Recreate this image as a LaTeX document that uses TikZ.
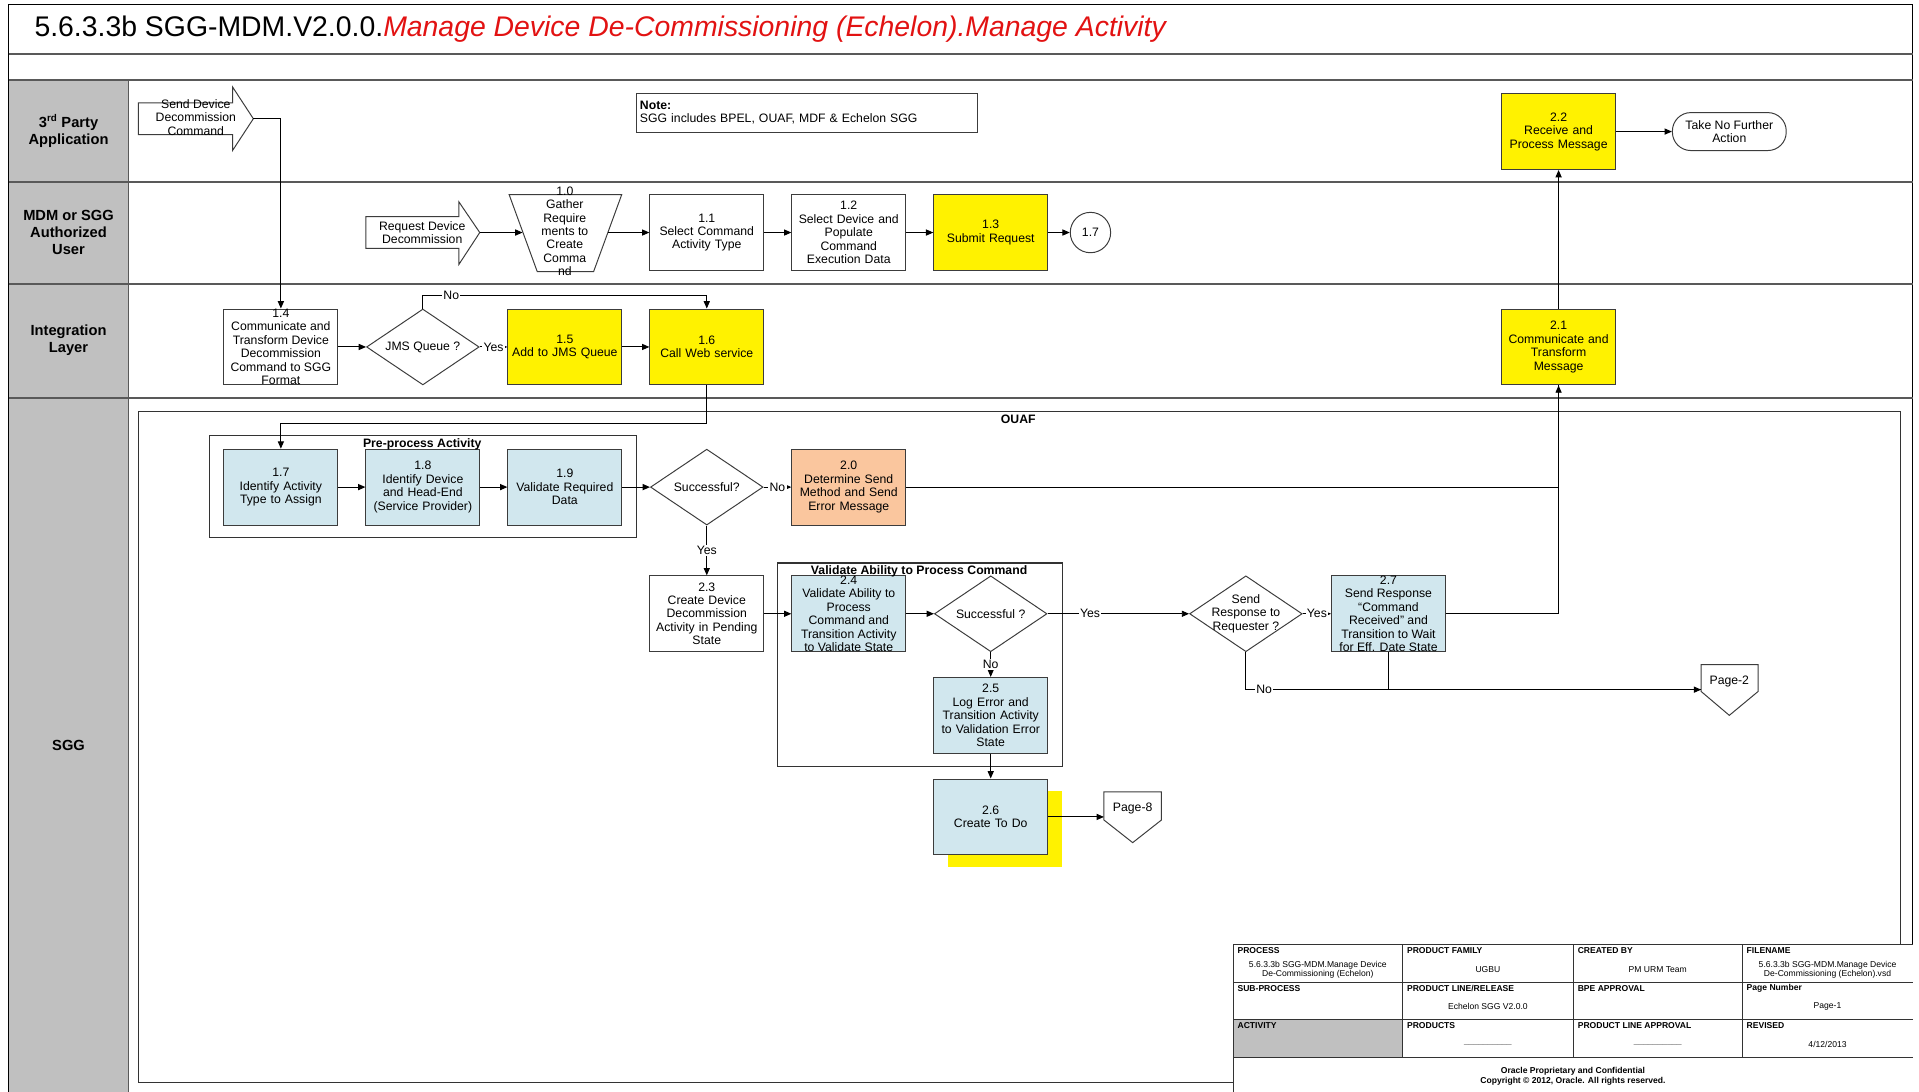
\documentclass[tikz,border=0pt]{standalone}
\usepackage{fontspec}
\setmainfont{Liberation Sans}
\usepackage{tikz}
\usetikzlibrary{shapes,arrows.meta,positioning}

\definecolor{procblue}{RGB}{209,231,238}
\definecolor{errorange}{RGB}{250,198,158}
\definecolor{lanegray}{RGB}{192,192,192}
\definecolor{edgegray}{RGB}{60,60,60}
\definecolor{titlered}{RGB}{226,18,18}

\tikzset{
	proc/.style={draw=edgegray, line width=0.8pt, fill=white, minimum width=93pt, minimum height=62pt, inner sep=1pt, text width=91pt, align=center},
	yel/.style={proc, fill=yellow},
	blu/.style={proc, fill=procblue},
	org/.style={proc, fill=errorange},
	dec/.style={diamond, aspect=1.5, draw=edgegray, line width=0.8pt, fill=white, minimum width=92pt, minimum height=62pt, inner sep=0pt},
	txt/.style={align=center, inner sep=0pt},
	lbl/.style={fill=white, inner sep=1pt},
	arr/.style={-{Triangle[length=6pt,width=5pt]}, line width=0.8pt},
	shapeline/.style={draw=edgegray, line width=0.8pt},
	laneline/.style={draw=black!65, line width=1.6pt},
	grp/.style={draw=black!80, line width=0.9pt},
	grptitle/.style={font=\bfseries, inner sep=0pt},
	lanetitle/.style={font=\fontsize{12}{14}\selectfont\bfseries, align=center},
	tbline/.style={draw=black!80, line width=0.7pt},
	tbhead/.style={font=\fontsize{7}{8}\selectfont\bfseries, anchor=west, inner sep=0pt},
	tbval/.style={font=\fontsize{7}{7.5}\selectfont, align=center, inner sep=0pt}
}

\begin{document}
\begin{tikzpicture}[x=1pt,y=-1pt,font=\fontsize{10}{11}\selectfont]
	\useasboundingbox (0,0) rectangle (1568,892);

	% page frame and swimlanes
	\fill[lanegray] (7,65.5) rectangle (105,892);
	\draw[black, line width=0.9pt] (7,892) -- (7,4) -- (1563,4) -- (1563,892);
	\draw[laneline] (7,44.5) -- (1563,44.5);
	\draw[laneline] (7,65.5) -- (1563,65.5);
	\draw[laneline] (7,149) -- (1563,149);
	\draw[laneline] (7,232) -- (1563,232);
	\draw[laneline] (7,325) -- (1563,325);
	\draw[laneline] (105,65.5) -- (105,892);

	\node[anchor=west, font=\fontsize{23.2}{27}\selectfont, inner sep=0pt] (title) at (28,24) {5.6.3.3b SGG-MDM.V2.0.0.\textcolor{titlered}{\itshape Manage Device De-Commissioning (Echelon).Manage Activity}};

	\node[lanetitle] (lane1) at (56,107) {3\textsuperscript{rd} Party\\Application};
	\node[lanetitle] (lane2) at (56,190) {MDM or SGG\\Authorized\\User};
	\node[lanetitle] (lane3) at (56,278) {Integration\\Layer};
	\node[lanetitle] (lane4) at (56,609) {SGG};

	% group frames
	\draw[grp] (113.5,336) rectangle (1552.5,884.5);
	\draw[grp] (171.5,356) rectangle (520,439);
	\draw[grp] (635.5,460) rectangle (868,626.5);

	% 3rd party application
	\draw[shapeline, fill=white] (113,84) -- (190,84) -- (190,71) -- (207,97) -- (190,123) -- (190,110) -- (113,110) -- cycle;
	\node[txt] (sdc) at (160,96) {Send Device\\Decommission\\Command};
	\coordinate (sdctip) at (207,97);

	\node[draw=edgegray, line width=0.8pt, anchor=north west, minimum width=279pt, minimum height=31.5pt, text width=273pt, align=left, inner sep=3pt] (note) at (519.5,76) {\textbf{Note:}\\SGG includes BPEL, OUAF, MDF \& Echelon SGG};

	\node[yel] (p22) at (1273.5,107.5) {2.2\\Receive and\\Process Message};
	\node[shapeline, fill=white, rounded corners=15pt, minimum width=93pt, minimum height=31pt, align=center, inner sep=1pt] (tnfa) at (1413,107.5) {Take No Further\\Action};

	% MDM or SGG authorized user
	\draw[shapeline, fill=white] (299,177) -- (375,177) -- (375,165) -- (392,190) -- (375,216) -- (375,203) -- (299,203) -- cycle;
	\node[txt] (rdd) at (345,190) {Request Device\\Decommission};
	\coordinate (rddtip) at (392,190);

	\draw[shapeline, fill=white] (416,159) -- (508,159) -- (485,222) -- (439,222) -- cycle;
	\node[txt] (p10) at (461.5,189) {1.0\\Gather\\Require\\ments to\\Create\\Comma\\nd};
	\coordinate (p10w) at (427,190);
	\coordinate (p10e) at (497,190);

	\node[proc] (p11) at (577.5,190) {1.1\\Select Command\\Activity Type};
	\node[proc] (p12) at (693.5,190) {1.2\\Select Device and\\Populate\\Command\\Execution Data};
	\node[yel] (p13) at (809.5,190) {1.3\\Submit Request};
	\node[circle, shapeline, fill=white, minimum size=33pt, inner sep=0pt] (c17) at (891,190) {1.7};

	% integration layer
	\node[proc, label={[txt]center:1.4\\Communicate and\\Transform Device\\Decommission\\Command to SGG\\Format}] (p14) at (229.5,283.5) {};
	\node[dec] (jms) at (345.5,283.5) {JMS Queue ?};
	\node[yel] (p15) at (461.5,283.5) {1.5\\Add to JMS Queue};
	\node[yel] (p16) at (577.5,283.5) {1.6\\Call Web service};
	\node[yel] (p21) at (1273.5,283.5) {2.1\\Communicate and\\Transform\\Message};

	% SGG
	\node[blu] (p17) at (229.5,398) {1.7\\Identify Activity\\Type to Assign};
	\node[blu] (p18) at (345.5,398) {1.8\\Identify Device\\and Head-End\\(Service Provider)};
	\node[blu] (p19) at (461.5,398) {1.9\\Validate Required\\Data};
	\node[dec] (suc1) at (577.5,398) {Successful?};
	\node[org] (p20) at (693.5,398) {2.0\\Determine Send\\Method and Send\\Error Message};

	\node[proc] (p23) at (577.5,501.5) {2.3\\Create Device\\Decommission\\Activity in Pending\\State};
	\node[blu, label={[txt]center:2.4\\Validate Ability to\\Process\\Command and\\Transition Activity\\to Validate State}] (p24) at (693.5,501.5) {};
	\node[dec] (suc2) at (809.5,501.5) {Successful ?};
	\node[dec, label={[txt]center:Send\\Response to\\Requester ?}] (sendq) at (1018,501.5) {};
	\node[blu, label={[txt]center:2.7\\Send Response\\``Command\\Received'' and\\Transition to Wait\\for Eff. Date State}] (p27) at (1134.5,501.5) {};

	\node[blu] (p25) at (809.5,584.5) {2.5\\Log Error and\\Transition Activity\\to Validation Error\\State};
	\fill[yellow] (775,646) rectangle (868,708);
	\node[blu] (p26) at (809.5,667.5) {2.6\\Create To Do};

	\draw[shapeline, fill=white] (902,647) -- (949,647) -- (949,670) -- (925.5,688.5) -- (902,670) -- cycle;
	\node[txt] (pg8) at (925.5,661) {Page-8};
	\coordinate (pg8w) at (902,667.5);

	\draw[shapeline, fill=white] (1390,543) -- (1436.5,543) -- (1436.5,565) -- (1413,584.5) -- (1390,565) -- cycle;
	\node[txt] (pg2) at (1413,557) {Page-2};
	\coordinate (pg2w) at (1390,563.5);

	\node[grptitle] (ouaf) at (832,342.5) {OUAF};
	\node[grptitle] (pre) at (345,363) {Pre-process Activity};
	\node[grptitle] (vap) at (751,467) {Validate Ability to Process Command};

	% connectors
	\path[arr] (p22) edge (tnfa);
	\draw[arr] (sdctip) -| (p14.north);
	\path[arr] (rddtip) edge (p10w);
	\path[arr] (p10e) edge (p11);
	\path[arr] (p11) edge (p12);
	\path[arr] (p12) edge (p13);
	\path[arr] (p13) edge (c17);

	\path[arr] (p14) edge (jms);
	\path[arr] (jms) edge node[lbl] {Yes} (p15);
	\draw[arr] (jms.north) -- ++(0,-11) -| node[lbl, pos=0.05] {No} (p16.north);
	\path[arr] (p15) edge (p16);
	\draw[arr] (p16.south) -- ++(0,31.5) -| (p17.north);
	\path[arr] (p21) edge (p22);

	\path[arr] (p17) edge (p18);
	\path[arr] (p18) edge (p19);
	\path[arr] (p19) edge (suc1);
	\path[arr] (suc1) edge node[lbl] {No} (p20);
	\path[arr] (suc1) edge node[lbl] {Yes} (p23);
	\draw[arr] (p20.east) -| (p21.south);
	\path[arr] (p23) edge (p24);
	\path[arr] (p24) edge (suc2);
	\path[arr] (suc2) edge node[lbl, pos=0.3] {Yes} (sendq);
	\path[arr] (sendq) edge node[lbl] {Yes} (p27);
	\draw[line width=0.8pt] (p27.east) -| (p21.south);
	\path[arr] (suc2) edge node[lbl] {No} (p25);
	\path[arr] (p25) edge (p26);
	\draw[arr] (p26.east) -- (pg8w);
	\draw[arr] (sendq.south) |- node[lbl, pos=0.52] {No} (pg2w);
	\draw[line width=0.8pt] (p27.south) |- (pg2w);

	% title block
	\fill[white] (1007.5,772) rectangle (1563,892);
	\fill[lanegray] (1007.5,833) rectangle (1146,864);
	\draw[tbline] (1007.5,892) -- (1007.5,772) -- (1563,772);
	\draw[tbline] (1007.5,802.5) -- (1563,802.5);
	\draw[tbline] (1007.5,833) -- (1563,833);
	\draw[tbline] (1007.5,864) -- (1563,864);
	\draw[tbline] (1146,772) -- (1146,864);
	\draw[tbline] (1285.5,772) -- (1285.5,864);
	\draw[tbline] (1423.5,772) -- (1423.5,864);

	\node[tbhead] (tbprocess) at (1011,777) {PROCESS};
	\node[tbhead] (tbfamily) at (1149.5,777) {PRODUCT FAMILY};
	\node[tbhead] (tbcreated) at (1289,777) {CREATED BY};
	\node[tbhead] (tbfile) at (1427,777) {FILENAME};
	\node[tbval] (vprocess) at (1076.75,792.5) {5.6.3.3b SGG-MDM.Manage Device\\De-Commissioning (Echelon)};
	\node[tbval] (vfamily) at (1215.75,792) {UGBU};
	\node[tbval] (vcreated) at (1354.5,792) {PM URM Team};
	\node[tbval] (vfile) at (1493.25,792.5) {5.6.3.3b SGG-MDM.Manage Device\\De-Commissioning (Echelon).vsd};

	\node[tbhead] (tbsub) at (1011,807.5) {SUB-PROCESS};
	\node[tbhead] (tbline) at (1149.5,807.5) {PRODUCT LINE/RELEASE};
	\node[tbhead] (tbbpe) at (1289,807.5) {BPE APPROVAL};
	\node[tbhead] (tbpage) at (1427,807.5) {Page Number};
	\node[tbval] (vline) at (1215.75,822.5) {Echelon SGG V2.0.0};
	\node[tbval] (vpage) at (1493.25,822.5) {Page-1};

	\node[tbhead] (tbact) at (1011,838) {ACTIVITY};
	\node[tbhead] (tbprod) at (1149.5,838) {PRODUCTS};
	\node[tbhead] (tbapp) at (1289,838) {PRODUCT LINE APPROVAL};
	\node[tbhead] (tbrev) at (1427,838) {REVISED};
	\node[tbval, text=black!60] (vprod) at (1215.75,853) {\_\_\_\_\_\_\_\_\_\_};
	\node[tbval, text=black!60] (vapp) at (1354.5,853) {\_\_\_\_\_\_\_\_\_\_};
	\node[tbval] (vrev) at (1493.25,853.5) {4/12/2013};

	\node[tbval, font=\fontsize{7}{8.5}\selectfont\bfseries] (copy) at (1285.25,879.5) {Oracle Proprietary and Confidential\\Copyright \textcopyright{} 2012, Oracle. All rights reserved.};
\end{tikzpicture}
\end{document}
